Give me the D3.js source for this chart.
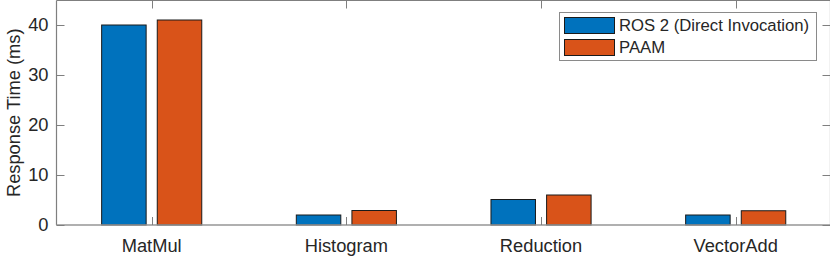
<!DOCTYPE html>
<html>
<head>
<meta charset="utf-8">
<script src="https://cdn.jsdelivr.net/npm/d3@7"></script>
<style>
  body { margin: 0; background: #fff; }
  text { font-family: "Liberation Sans", Arial, Helvetica, sans-serif; fill: #262626; }
</style>
</head>
<body>
<div id="chart"></div>
<script>
// data
var categories = ["MatMul", "Histogram", "Reduction", "VectorAdd"];
var seriesNames = ["ROS 2 (Direct Invocation)", "PAAM"];
var ros2Values = [40, 2, 5.1, 2];
var paamValues = [41, 2.9, 6, 2.85];
var yTicks = [0, 10, 20, 30, 40];
var colors = ["#0072BD", "#D95319"];

var width = 830, height = 256;
var plot = { left: 56.5, right: 830.5, top: 0.5, bottom: 225 };

var svg = d3.select("#chart")
  .append("svg")
  .attr("width", width)
  .attr("height", height);

// category positions 1..4, MATLAB style grouped bars
var x = d3.scaleLinear().domain([1, 4]).range([151.7, 735.7]);
var y = d3.scaleLinear().domain([0, 45]).range([plot.bottom, plot.top - 0.5]);

var groupWidth = 2 / (2 + 1.5);
var barW = 0.8 * groupWidth / 2;
var offsets = [-groupWidth / 4, groupWidth / 4];
var series = [ros2Values, paamValues];

// Bars
series.forEach(function(vals, s) {
  svg.selectAll("rect.s" + s)
    .data(vals)
    .enter()
    .append("rect")
    .attr("class", "s" + s)
    .attr("x", function(d, i) { return x(i + 1 + offsets[s] - barW / 2); })
    .attr("width", function() { return x(1 + barW) - x(1); })
    .attr("y", function(d) { return y(d); })
    .attr("height", function(d) { return y(0) - y(d); })
    .style("fill", colors[s])
    .style("stroke", "#1a1a1a")
    .style("stroke-width", "1px");
});

// Axes box (left, top, bottom baseline)
var axisColor = "#7f7f7f";
svg.append("line")
  .attr("x1", plot.left).attr("x2", plot.left)
  .attr("y1", plot.top).attr("y2", plot.bottom)
  .style("stroke", axisColor).style("stroke-width", "1.2px");
svg.append("line")
  .attr("x1", plot.left).attr("x2", plot.right)
  .attr("y1", plot.top).attr("y2", plot.top)
  .style("stroke", axisColor).style("stroke-width", "1.2px");
svg.append("line")
  .attr("x1", plot.left).attr("x2", plot.right)
  .attr("y1", plot.bottom).attr("y2", plot.bottom)
  .style("stroke", "#969696").style("stroke-width", "1.6px");
svg.append("line")
  .attr("x1", plot.right).attr("x2", plot.right)
  .attr("y1", plot.top).attr("y2", plot.bottom)
  .style("stroke", axisColor).style("stroke-width", "1.2px");

var tickLen = 8;

// Y ticks, both sides
svg.selectAll("line.ytickL")
  .data(yTicks)
  .enter()
  .append("line")
  .attr("class", "ytickL")
  .attr("x1", plot.left).attr("x2", plot.left + tickLen)
  .attr("y1", function(d) { return Math.round(y(d)) + 0.5; })
  .attr("y2", function(d) { return Math.round(y(d)) + 0.5; })
  .style("stroke", axisColor).style("stroke-width", "1px");

svg.selectAll("line.ytickR")
  .data(yTicks)
  .enter()
  .append("line")
  .attr("class", "ytickR")
  .attr("x1", plot.right - tickLen).attr("x2", plot.right)
  .attr("y1", function(d) { return Math.round(y(d)) + 0.5; })
  .attr("y2", function(d) { return Math.round(y(d)) + 0.5; })
  .style("stroke", axisColor).style("stroke-width", "1px");

svg.selectAll("text.ylab")
  .data(yTicks)
  .enter()
  .append("text")
  .attr("class", "ylab")
  .attr("x", plot.left - 8)
  .attr("y", function(d) { return y(d); })
  .attr("dy", "0.35em")
  .attr("font-size", 18.3)
  .attr("text-anchor", "end")
  .text(function(d) { return d; });

// X ticks, top and bottom
svg.selectAll("line.xtickB")
  .data(categories)
  .enter()
  .append("line")
  .attr("class", "xtickB")
  .attr("x1", function(d, i) { return Math.round(x(i + 1)) + 0.5; })
  .attr("x2", function(d, i) { return Math.round(x(i + 1)) + 0.5; })
  .attr("y1", plot.bottom).attr("y2", plot.bottom - tickLen)
  .style("stroke", axisColor).style("stroke-width", "1px");

svg.selectAll("line.xtickT")
  .data(categories)
  .enter()
  .append("line")
  .attr("class", "xtickT")
  .attr("x1", function(d, i) { return Math.round(x(i + 1)) + 0.5; })
  .attr("x2", function(d, i) { return Math.round(x(i + 1)) + 0.5; })
  .attr("y1", plot.top).attr("y2", plot.top + tickLen)
  .style("stroke", axisColor).style("stroke-width", "1px");

svg.selectAll("text.xlab")
  .data(categories)
  .enter()
  .append("text")
  .attr("class", "xlab")
  .attr("x", function(d, i) { return x(i + 1); })
  .attr("y", 251.5)
  .attr("font-size", 18.3)
  .attr("text-anchor", "middle")
  .text(function(d) { return d; });

// Y axis title
svg.append("text")
  .attr("transform", "translate(19.5," + ((plot.top + plot.bottom) / 2) + ") rotate(-90)")
  .attr("font-size", 18.3)
  .attr("text-anchor", "middle")
  .text("Response Time (ms)");

// Legend
var legend = svg.append("g").attr("transform", "translate(559.5,12.5)");
legend.append("rect")
  .attr("width", 257)
  .attr("height", 48)
  .style("fill", "#fff")
  .style("stroke", "#8a8a8a")
  .style("stroke-width", "1px");

legend.selectAll("rect.sw")
  .data(seriesNames)
  .enter()
  .append("rect")
  .attr("class", "sw")
  .attr("x", 5)
  .attr("y", function(d, i) { return 5 + i * 22; })
  .attr("width", 50)
  .attr("height", 16)
  .style("fill", function(d, i) { return colors[i]; })
  .style("stroke", "#1a1a1a")
  .style("stroke-width", "1px");

legend.selectAll("text.lg")
  .data(seriesNames)
  .enter()
  .append("text")
  .attr("class", "lg")
  .attr("x", 59.5)
  .attr("y", function(d, i) { return 13 + i * 22; })
  .attr("dy", "0.35em")
  .attr("font-size", 16.7)
  .text(function(d) { return d; });
</script>
</body>
</html>
